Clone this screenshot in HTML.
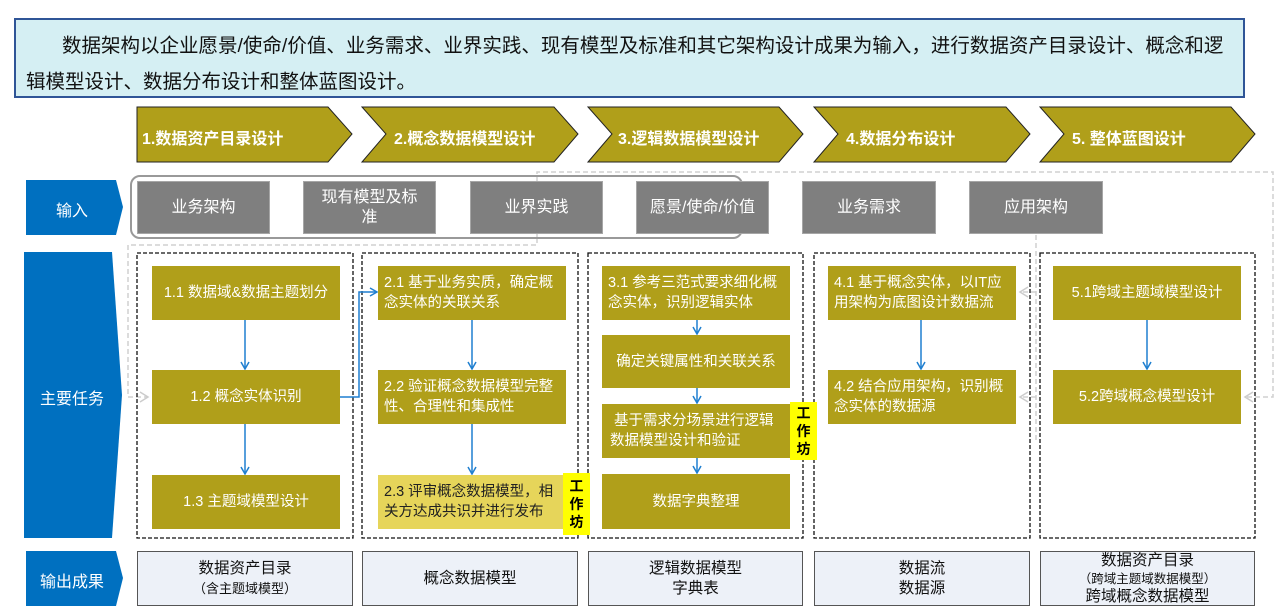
<!DOCTYPE html>
<html><head><meta charset="utf-8"><style>
*{margin:0;padding:0;box-sizing:border-box}
body{width:1280px;height:612px;background:#fff;position:relative;overflow:hidden;font-family:"Liberation Sans","Noto Sans CJK SC",sans-serif}
.a{position:absolute}
.top{left:14px;top:18px;width:1231px;height:80px;background:#d5eff3;border:2px solid #2f5597;font-size:19.5px;line-height:36px;color:#111;padding:8px 0 0 10px;white-space:nowrap;overflow:hidden}
.g{background:#7f7f7f;color:#fff;font-size:16px;display:flex;align-items:center;justify-content:center;text-align:center;line-height:20px;border:1px solid #a6a6a6}
.t{background:#b09f1a;color:#fff;font-size:14.5px;display:flex;align-items:center;line-height:20px;padding:0 6px}
.c{justify-content:center;text-align:center}
.ws{background:#ffff00;color:#000;font-weight:bold;font-size:14px;line-height:18px;text-align:center;display:flex;align-items:center;justify-content:center;width:27px}
.o{background:#edf1f8;border:1.5px solid #555;color:#111;font-size:15.5px;display:flex;flex-direction:column;align-items:center;justify-content:center;text-align:center;line-height:20px}
.lbl{color:#fff;font-size:16px}
.ch{color:#fff;font-weight:bold;font-size:16px}
</style></head><body>
<div class="a top"><span style="padding-left:36px"></span>数据架构以企业愿景/使命/价值、业务需求、业界实践、现有模型及标准和其它架构设计成果为输入，进行数据资产目录设计、概念和逻<br>辑模型设计、数据分布设计和整体蓝图设计。</div>

<svg class="a" style="left:0;top:0" width="1280" height="612">
<defs>
<marker id="ab" markerWidth="10" markerHeight="10" refX="8" refY="5" orient="auto" markerUnits="userSpaceOnUse"><path d="M1,1 L8,5 L1,9" fill="none" stroke="#1f7fd0" stroke-width="1.5"/></marker>
<marker id="ag" markerWidth="12" markerHeight="12" refX="9" refY="6" orient="auto" markerUnits="userSpaceOnUse"><path d="M1,1 L9,6 L1,11" fill="none" stroke="#ccc" stroke-width="1.5"/></marker>
</defs>
<g fill="#b09f1a" stroke="#222" stroke-width="1">
<polygon points="137,107 328,107 352,134 328,162 137,162"/>
<polygon points="362,107 554,107 578,134 554,162 362,162 386,134"/>
<polygon points="588,107 779,107 803,134 779,162 588,162 612,134"/>
<polygon points="814,107 1006,107 1030,134 1006,162 814,162 838,134"/>
<polygon points="1040,107 1231,107 1255,134 1231,162 1040,162 1064,134"/>
</g>
<g fill="#0070c0">
<polygon points="26,180 116,180 123,207 116,235 26,235"/>
<polygon points="24,252 112,252 122,395 112,538 24,538"/>
<polygon points="26,551 116,551 123,578 116,606 26,606"/>
</g>
<g fill="none" stroke="#d0d0d0" stroke-width="1.5" stroke-dasharray="5,3">
<polyline points="537,238 537,172 1273,172 1273,397 1245,397" marker-end="url(#ag)"/>
<polyline points="537,238 537,245 128,245 128,397 148,397" marker-end="url(#ag)"/>
<polyline points="1036,235 1036,440"/>
<polyline points="1036,292 1020,292" marker-end="url(#ag)"/>
<polyline points="1036,397 1020,397" marker-end="url(#ag)"/>
</g>
<rect x="131" y="176" width="611" height="62" rx="9" fill="none" stroke="#999" stroke-width="2"/>
<g fill="none" stroke="#111" stroke-width="1.3" stroke-dasharray="4,2">
<rect x="137" y="253" width="216" height="285"/>
<rect x="362" y="253" width="216" height="285"/>
<rect x="588" y="253" width="215" height="285"/>
<rect x="814" y="253" width="216" height="285"/>
<rect x="1040" y="253" width="215" height="285"/>
</g>
<g stroke="#1f7fd0" stroke-width="1.5" fill="none">
<line x1="245" y1="319" x2="245" y2="369" marker-end="url(#ab)"/>
<line x1="245" y1="424" x2="245" y2="474" marker-end="url(#ab)"/>
<polyline points="340,397 359,397 359,292 377,292" marker-end="url(#ab)"/>
<line x1="472" y1="319" x2="472" y2="369" marker-end="url(#ab)"/>
<line x1="472" y1="424" x2="472" y2="474" marker-end="url(#ab)"/>
<line x1="697" y1="319" x2="697" y2="334" marker-end="url(#ab)"/>
<line x1="697" y1="388" x2="697" y2="403" marker-end="url(#ab)"/>
<line x1="697" y1="458" x2="697" y2="473" marker-end="url(#ab)"/>
<line x1="921" y1="319" x2="921" y2="369" marker-end="url(#ab)"/>
<line x1="1147" y1="319" x2="1147" y2="369" marker-end="url(#ab)"/>
</g>
</svg>

<div class="a ch" style="left:142px;top:125px">1.数据资产目录设计</div>
<div class="a ch" style="left:394px;top:125px">2.概念数据模型设计</div>
<div class="a ch" style="left:618px;top:125px">3.逻辑数据模型设计</div>
<div class="a ch" style="left:846px;top:125px">4.数据分布设计</div>
<div class="a ch" style="left:1072px;top:125px">5. 整体蓝图设计</div>

<div class="a lbl" style="left:56px;top:197px">输入</div>
<div class="a lbl" style="left:40px;top:385px">主要任务</div>
<div class="a lbl" style="left:40px;top:568px">输出成果</div>

<div class="a g" style="left:137px;top:181px;width:133px;height:53px">业务架构</div>
<div class="a g" style="left:303px;top:181px;width:133px;height:53px">现有模型及标<br>准</div>
<div class="a g" style="left:470px;top:181px;width:133px;height:53px">业界实践</div>
<div class="a g" style="left:636px;top:181px;width:133px;height:53px">愿景/使命/价值</div>
<div class="a g" style="left:802px;top:181px;width:134px;height:53px">业务需求</div>
<div class="a g" style="left:969px;top:181px;width:134px;height:53px">应用架构</div>

<div class="a t c" style="left:152px;top:266px;width:188px;height:54px">1.1 数据域&amp;数据主题划分</div>
<div class="a t c" style="left:152px;top:370px;width:188px;height:54px">1.2 概念实体识别</div>
<div class="a t c" style="left:152px;top:475px;width:188px;height:54px">1.3 主题域模型设计</div>

<div class="a t" style="left:378px;top:266px;width:188px;height:54px">2.1 基于业务实质，确定概念实体的关联关系</div>
<div class="a t" style="left:378px;top:370px;width:188px;height:54px">2.2 验证概念数据模型完整性、合理性和集成性</div>
<div class="a t" style="left:378px;top:475px;width:188px;height:54px;background:#e6d55a;color:#222">2.3 评审概念数据模型，相关方达成共识并进行发布</div>
<div class="a ws" style="left:563px;top:473px;height:62px">工<br>作<br>坊</div>

<div class="a t" style="left:602px;top:266px;width:188px;height:54px">3.1 参考三范式要求细化概念实体，识别逻辑实体</div>
<div class="a t c" style="left:602px;top:335px;width:188px;height:53px">确定关键属性和关联关系</div>
<div class="a t" style="left:602px;top:404px;width:188px;height:54px;padding-left:8px">&nbsp;基于需求分场景进行逻辑数据模型设计和验证</div>
<div class="a t c" style="left:602px;top:474px;width:188px;height:55px">数据字典整理</div>
<div class="a ws" style="left:790px;top:402px;height:58px">工<br>作<br>坊</div>

<div class="a t" style="left:828px;top:266px;width:188px;height:54px">4.1 基于概念实体，以IT应用架构为底图设计数据流</div>
<div class="a t" style="left:828px;top:370px;width:188px;height:54px">4.2 结合应用架构，识别概念实体的数据源</div>

<div class="a t c" style="left:1053px;top:266px;width:188px;height:54px">5.1跨域主题域模型设计</div>
<div class="a t c" style="left:1053px;top:370px;width:188px;height:54px">5.2跨域概念模型设计</div>

<div class="a o" style="left:137px;top:551px;width:216px;height:55px">数据资产目录<span style="font-size:13px">（含主题域模型）</span></div>
<div class="a o" style="left:362px;top:551px;width:216px;height:55px">概念数据模型</div>
<div class="a o" style="left:588px;top:551px;width:215px;height:55px">逻辑数据模型<br>字典表</div>
<div class="a o" style="left:814px;top:551px;width:216px;height:55px">数据流<br>数据源</div>
<div class="a o" style="left:1040px;top:551px;width:215px;height:55px;line-height:18px">数据资产目录<span style="font-size:12.5px">（跨域主题域数据模型）</span>跨域概念数据模型</div>
</body></html>
